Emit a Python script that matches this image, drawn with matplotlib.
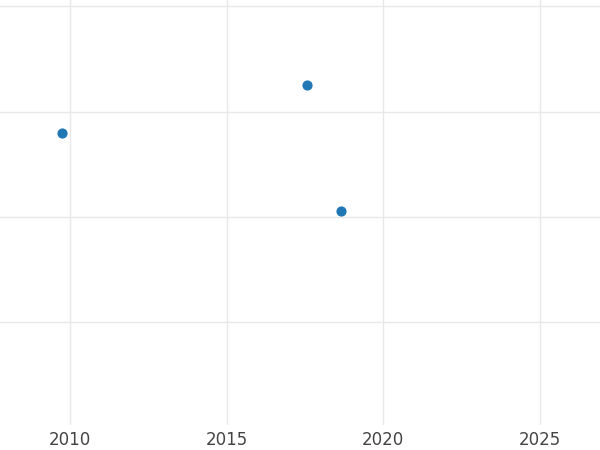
import matplotlib
matplotlib.use("Agg")
import matplotlib.pyplot as plt

years = [2009.75, 2017.56, 2018.65]
values = [2.80, 3.25, 2.05]
x_ticks = [2010, 2015, 2020, 2025]
y_grid = [1, 2, 3, 4]

fig = plt.figure(figsize=(6, 4.5), dpi=100)
ax = fig.add_axes([0, 1 - 425 / 450, 1, 425 / 450])
ax.scatter(years, values, s=40, color="#1f77b4", zorder=3)
ax.set_xlim(2007.77, 2026.92)
ax.set_ylim(0.02, 4.06)
ax.set_xticks(x_ticks)
ax.set_yticks(y_grid)
ax.set_yticklabels([])
ax.grid(True, color="#e8e8e8", linewidth=1)
for s in ax.spines.values():
    s.set_visible(False)
ax.tick_params(length=0, labelsize=12, labelcolor="#444444", pad=4)
fig.savefig("out.png", dpi=100)
